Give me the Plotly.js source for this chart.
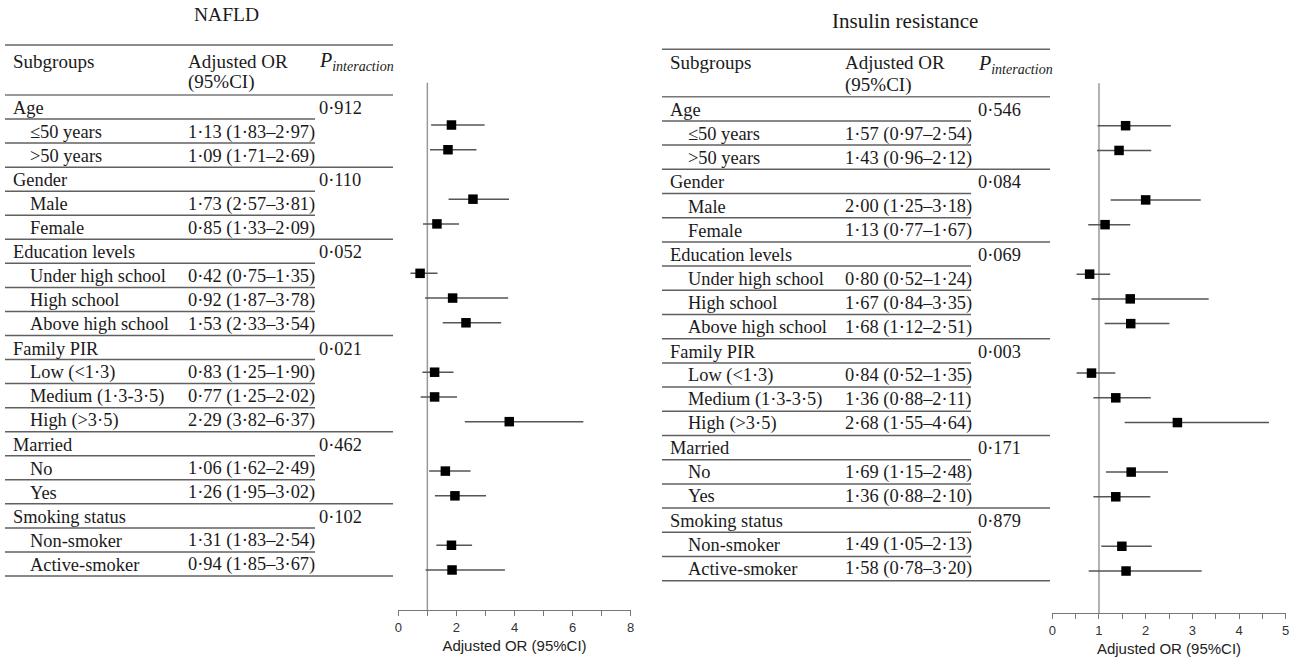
<!DOCTYPE html>
<html>
<head>
<meta charset="utf-8">
<script src="https://cdn.plot.ly/plotly-3.0.1.min.js"></script>
<style>html,body{margin:0;padding:0;background:#fff;}#chart{width:1293px;height:657px;}</style>
</head>
<body>
<div id="chart"></div>
<script>
// ---------------- DATA ----------------
const subgroups = ['Age','≤50 years','>50 years','Gender','Male','Female','Education levels','Under high school','High school','Above high school','Family PIR','Low (<1·3)','Medium (1·3-3·5)','High (>3·5)','Married','No','Yes','Smoking status','Non-smoker','Active-smoker'];

const nafldText = ['','1·13 (1·83–2·97)','1·09 (1·71–2·69)','','1·73 (2·57–3·81)','0·85 (1·33–2·09)','','0·42 (0·75–1·35)','0·92 (1·87–3·78)','1·53 (2·33–3·54)','','0·83 (1·25–1·90)','0·77 (1·25–2·02)','2·29 (3·82–6·37)','','1·06 (1·62–2·49)','1·26 (1·95–3·02)','','1·31 (1·83–2·54)','0·94 (1·85–3·67)'];
const nafldP = ['0·912','','','0·110','','','0·052','','','','0·021','','','','0·462','','','0·102','',''];
const nafldOR = [null,1.83,1.71,null,2.57,1.33,null,0.75,1.87,2.33,null,1.25,1.25,3.82,null,1.62,1.95,null,1.83,1.85];
const nafldLo = [null,1.13,1.09,null,1.73,0.85,null,0.42,0.92,1.53,null,0.83,0.77,2.29,null,1.06,1.26,null,1.31,0.94];
const nafldHi = [null,2.97,2.69,null,3.81,2.09,null,1.35,3.78,3.54,null,1.90,2.02,6.37,null,2.49,3.02,null,2.54,3.67];

const irText = ['','1·57 (0·97–2·54)','1·43 (0·96–2·12)','','2·00 (1·25–3·18)','1·13 (0·77–1·67)','','0·80 (0·52–1·24)','1·67 (0·84–3·35)','1·68 (1·12–2·51)','','0·84 (0·52–1·35)','1·36 (0·88–2·11)','2·68 (1·55–4·64)','','1·69 (1·15–2·48)','1·36 (0·88–2·10)','','1·49 (1·05–2·13)','1·58 (0·78–3·20)'];
const irP = ['0·546','','','0·084','','','0·069','','','','0·003','','','','0·171','','','0·879','',''];
const irOR = [null,1.57,1.43,null,2.00,1.13,null,0.80,1.67,1.68,null,0.84,1.36,2.68,null,1.69,1.36,null,1.49,1.58];
const irLo = [null,0.97,0.96,null,1.25,0.77,null,0.52,0.84,1.12,null,0.52,0.88,1.55,null,1.15,0.88,null,1.05,0.78];
const irHi = [null,2.54,2.12,null,3.18,1.67,null,1.24,3.35,2.51,null,1.35,2.11,4.64,null,2.48,2.10,null,2.13,3.20];

const panelTitles = ['NAFLD','Insulin resistance'];
const headers = ['Subgroups','Adjusted OR','(95%CI)','<i>P</i><sub><i>interaction</i></sub>'];
const axisTitle = 'Adjusted OR (95%CI)';

// ---------------- LAYOUT HELPERS ----------------
const W = 1293, H = 657;
const X = p => p / W;
const Y = p => 1 - p / H;
const rows = subgroups.map((_, i) => i);
const SERIF = 'Liberation Serif, Times New Roman, serif';
const SANS = 'Liberation Sans, Arial, sans-serif';
const TXT = '#1a1a1a';
const FS = 18.4;

const panels = [
  {text: nafldText, p: nafldP, or: nafldOR, lo: nafldLo, hi: nafldHi,
   x0: 5, x1: 393, xPart: 315, gX: 12, iX: 29, vX: 187, pX: 318,
   tX: 227, tY: 15, tSize: 19.5, top: 45, hdrLine: 95, hdrY1: 61, hdrY2: 82, pY: 61,
   row0: 108, rowStep: 24.05, line0: 95, lineStep: 24.05,
   xa: 'x', ya: 'y', xDom: [398.3, 630.7], yTop: 82.7, yBot: 610, mk0: 100.3, mkStep: 24.72, xr: [0, 8], dt: 2, mdt: 1},
  {text: irText, p: irP, or: irOR, lo: irLo, hi: irHi,
   x0: 662, x1: 1050, xPart: 971, gX: 669, iX: 687, vX: 844, pX: 977,
   tX: 904.5, tY: 21, tSize: 21, top: 49.3, hdrLine: 96.7, hdrY1: 62, hdrY2: 85, pY: 64,
   row0: 110, rowStep: 24.15, line0: 96.7, lineStep: 24.2,
   xa: 'x2', ya: 'y2', xDom: [1052.3, 1285.7], yTop: 83.3, yBot: 613.3, mk0: 100.96, mkStep: 24.74, xr: [0, 5], dt: 1, mdt: 0.5}
];

const traces = [], shapes = [], annotations = [];
const layout = {
  width: W, height: H, margin: {l: 0, r: 0, t: 0, b: 0},
  paper_bgcolor: '#fff', plot_bgcolor: 'rgba(0,0,0,0)', showlegend: false,
  font: {family: SANS, color: TXT}
};

panels.forEach((P, pi) => {
  const sfx = pi === 0 ? '' : '2';
  // forest trace
  const idx = rows.filter(i => P.or[i] !== null);
  traces.push({
    type: 'scatter', mode: 'markers', xaxis: P.xa, yaxis: P.ya,
    x: idx.map(i => P.or[i]), y: idx.map(i => i),
    error_x: {type: 'data', symmetric: false,
      array: idx.map(i => P.hi[i] - P.or[i]), arrayminus: idx.map(i => P.or[i] - P.lo[i]),
      color: '#555', thickness: 1.5, width: 0},
    marker: {symbol: 'square', size: 9.5, color: '#000'},
    hoverinfo: 'skip', cliponaxis: false
  });
  const top = (P.yTop - P.mk0) / P.mkStep, bot = (P.yBot - P.mk0) / P.mkStep;
  layout['xaxis' + sfx] = {
    domain: [X(P.xDom[0]), X(P.xDom[1])], anchor: 'y' + sfx, range: P.xr, dtick: P.dt, tick0: 0,
    showgrid: false, zeroline: false, showline: true, linecolor: '#777', linewidth: 1,
    ticks: 'outside', ticklen: 5, tickcolor: '#777', tickwidth: 1,
    minor: {dtick: P.mdt, tick0: 0, ticks: 'outside', ticklen: 5, tickcolor: '#777', tickwidth: 1, showgrid: false},
    tickfont: {family: SANS, size: 13, color: '#333'},
    title: {text: axisTitle, font: {family: SANS, size: 15, color: '#222'}, standoff: 6},
    fixedrange: true
  };
  layout['yaxis' + sfx] = {
    domain: [Y(P.yBot), Y(P.yTop)], anchor: 'x' + sfx, range: [bot, top],
    visible: false, showgrid: false, zeroline: false, fixedrange: true
  };
  // reference line at OR = 1
  shapes.push({type: 'line', xref: P.xa, yref: P.ya + ' domain', x0: 1, x1: 1, y0: 0, y1: 1,
    line: {color: '#999', width: 1.5}, layer: 'below'});

  // table lines
  const hl = (y, x1, col, w) => shapes.push({type: 'line', xref: 'paper', yref: 'paper',
    x0: X(P.x0), x1: X(x1), y0: Y(y), y1: Y(y), line: {color: col, width: w}});
  hl(P.top, P.x1, '#666', 1.6);
  hl(P.hdrLine, P.x1, '#777', 1.4);
  rows.forEach(i => {
    const y = P.line0 + P.lineStep * (i + 1);
    const full = (i === rows.length - 1) || P.p[i + 1] !== '';
    hl(y, full ? P.x1 : P.xPart, '#606060', 1.5);
  });

  // texts
  const ann = (x, y, text, size, opts) => annotations.push(Object.assign({
    xref: 'paper', yref: 'paper', x: X(x), y: Y(y), text: text, showarrow: false,
    xanchor: 'left', yanchor: 'middle', font: {family: SERIF, size: size, color: TXT}, borderpad: 0
  }, opts || {}));
  ann(P.tX, P.tY, panelTitles[pi], P.tSize, {xanchor: 'center'});
  ann(P.gX, P.hdrY1, headers[0], 19);
  ann(P.vX, P.hdrY1, headers[1], 19);
  ann(P.vX, P.hdrY2, headers[2], 19);
  ann(P.pX, P.pY, headers[3], 20);
  rows.forEach(i => {
    const y = P.row0 + P.rowStep * i;
    const isGroup = P.p[i] !== '';
    ann(isGroup ? P.gX : P.iX, y, subgroups[i], FS);
    if (P.text[i]) ann(P.vX, y, P.text[i], FS);
    if (P.p[i]) ann(P.pX, y, P.p[i], FS);
  });
});

layout.shapes = shapes;
layout.annotations = annotations;
Plotly.newPlot('chart', traces, layout, {staticPlot: true, displayModeBar: false});
</script>
</body>
</html>
